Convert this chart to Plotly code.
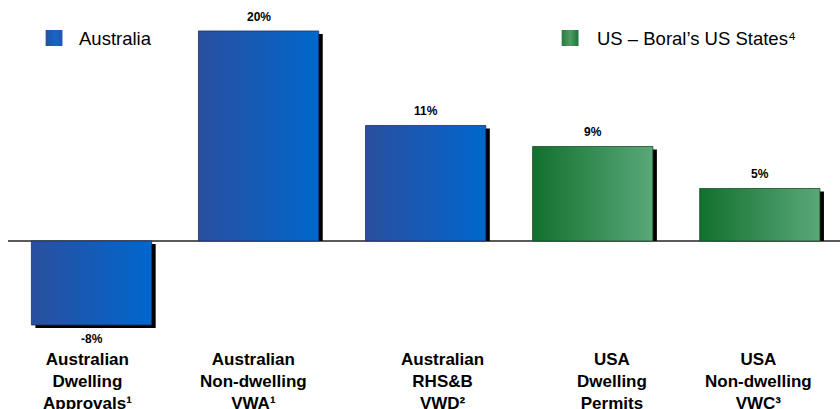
import plotly.graph_objects as go

# Growth by market segment (%)
categories = [
    "Australian<br>Dwelling<br>Approvals¹",
    "Australian<br>Non-dwelling<br>VWA¹",
    "Australian<br>RHS&amp;B<br>VWD²",
    "USA<br>Dwelling<br>Permits",
    "USA<br>Non-dwelling<br>VWC³",
]
values = [-8, 20, 11, 9, 5]
value_labels = ["-8%", "20%", "11%", "9%", "5%"]
regions = ["Australia", "Australia", "Australia", "US", "US"]
legend_names = {"Australia": "Australia", "US": "US – Boral’s US States⁴"}

W, H = 840, 409
FONT = "Liberation Sans, Arial, sans-serif"

gradients = {
    "Australia": [[0, "#2a4f9f"], [1, "#0067cd"]],
    "US": [[0, "#12702e"], [1, "#59a878"]],
}
edge_colors = {"Australia": "#1f2f66", "US": "#1a4a2a"}
legend_gradients = {
    "Australia": [[0, "#2a4f9f"], [0.55, "#1466c9"], [1, "#2756aa"]],
    "US": [[0, "#2b7a3f"], [0.5, "#4f9c62"], [1, "#1c7436"]],
}

half_w = 0.36          # half bar width in category units
x_range = [-0.5, 4.48]
y_range = [-16.0, 22.95]
plot_left = 8
px_per_x = (W - plot_left) / (x_range[1] - x_range[0])
px_per_y = H / (y_range[1] - y_range[0])
sh_dx = 4 / px_per_x   # drop-shadow offset
sh_dy = 3 / px_per_y

fig = go.Figure()

for i, (v, reg) in enumerate(zip(values, regions)):
    x0, x1 = i - half_w, i + half_w
    # shadow
    if v >= 0:
        sy0, sy1 = 0, v - sh_dy
    else:
        sy0, sy1 = -sh_dy, v - sh_dy
    fig.add_trace(go.Scatter(
        x=[x0 + sh_dx, x1 + sh_dx, x1 + sh_dx, x0 + sh_dx, x0 + sh_dx],
        y=[sy0, sy0, sy1, sy1, sy0],
        fill="toself", fillcolor="#000000", line=dict(width=0),
        mode="lines", hoverinfo="skip", showlegend=False,
    ))
    # bar body with horizontal gradient
    fig.add_trace(go.Scatter(
        x=[x0, x1, x1, x0, x0],
        y=[0, 0, v, v, 0],
        fill="toself",
        fillgradient=dict(type="horizontal", colorscale=gradients[reg]),
        line=dict(width=0.8, color=edge_colors[reg]),
        mode="lines", hoverinfo="skip", showlegend=False,
    ))

# legend swatches on a pixel-space overlay axis
legend_items = [("Australia", 38, 70), ("US", 559, 593)]
for reg, sx, tx in legend_items:
    fig.add_trace(go.Scatter(
        x=[sx, sx + 17, sx + 17, sx, sx],
        y=[30, 30, 46, 46, 30],
        xaxis="x2", yaxis="y2",
        fill="toself",
        fillgradient=dict(type="horizontal", colorscale=legend_gradients[reg]),
        line=dict(width=0), mode="lines", hoverinfo="skip", showlegend=False,
    ))

annotations = []
for reg, sx, tx in legend_items:
    annotations.append(dict(
        x=tx, y=38, xref="x2", yref="y2", text=legend_names[reg],
        showarrow=False, xanchor="left", yanchor="middle",
        font=dict(family=FONT, size=18.5, color="#000000"),
    ))

for i, (v, lab) in enumerate(zip(values, value_labels)):
    annotations.append(dict(
        x=i, y=v, xref="x", yref="y", text=f"<b>{lab}</b>",
        showarrow=False, xanchor="center", yanchor="middle",
        yshift=14 if v >= 0 else -14,
        font=dict(family=FONT, size=12, color="#000000"),
    ))

label_shift = [-4, -5, 17, 19, -1]
for i, cat in enumerate(categories):
    annotations.append(dict(
        x=i, y=348, xref="x", yref="y2", text=f"<b>{cat}</b>",
        showarrow=False, xanchor="center", yanchor="top", xshift=label_shift[i],
        font=dict(family=FONT, size=17, color="#000000"),
    ))

fig.update_layout(
    width=W, height=H,
    margin=dict(l=0, r=0, t=0, b=0),
    paper_bgcolor="#ffffff", plot_bgcolor="rgba(0,0,0,0)",
    showlegend=False,
    xaxis=dict(range=x_range, domain=[plot_left / W, 1], visible=False, fixedrange=True),
    yaxis=dict(range=y_range, domain=[0, 1], showgrid=False, showticklabels=False,
               zeroline=True, zerolinecolor="#5a5a5a", zerolinewidth=1.5,
               fixedrange=True),
    xaxis2=dict(range=[0, W], domain=[0, 1], overlaying="x", visible=False, fixedrange=True),
    yaxis2=dict(range=[H, 0], domain=[0, 1], overlaying="y", visible=False, fixedrange=True),
    annotations=annotations,
    font=dict(family=FONT),
)

fig.write_html("out.html", config={"displayModeBar": False})
